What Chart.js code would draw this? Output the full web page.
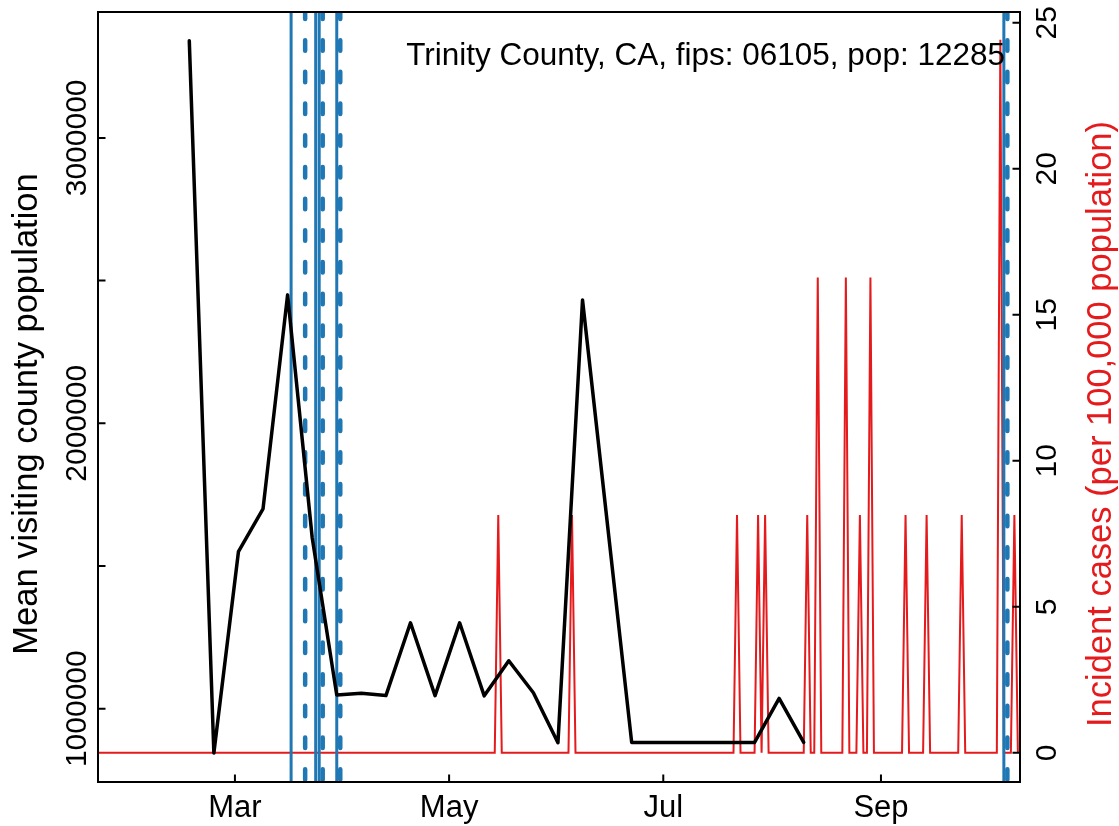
<!DOCTYPE html>
<html>
<head>
<meta charset="utf-8">
<title>Trinity County, CA</title>
<script src="https://cdn.jsdelivr.net/npm/chart.js@4.4.1/dist/chart.umd.min.js"></script>
<style>
  html, body { margin: 0; padding: 0; background: #fff; }
  canvas { display: block; }
</style>
</head>
<body>
<canvas id="chart" width="1119" height="826"></canvas>
<script>
// weekly mean visiting population (week starting Monday)
const visitWeeks = [
  '2020-02-17', '2020-02-24', '2020-03-02', '2020-03-09', '2020-03-16', '2020-03-23',
  '2020-03-30', '2020-04-06', '2020-04-13', '2020-04-20', '2020-04-27', '2020-05-04',
  '2020-05-11', '2020-05-18', '2020-05-25', '2020-06-01', '2020-06-08', '2020-06-15',
  '2020-06-22', '2020-06-29', '2020-07-06', '2020-07-13', '2020-07-20', '2020-07-27',
  '2020-08-03', '2020-08-10'
];
const visitMeans = [
  3340000, 845000, 1550000, 1700000, 2450000, 1600000,
  1048000, 1054000, 1046000, 1301000, 1046000, 1301000,
  1045000, 1168000, 1056000, 881000, 2432000, 1657000,
  882000, 882000, 882000, 882000, 882000, 882000,
  1036000, 882000
];

// daily incident cases per 100,000: days with a case (all other days are 0)
const caseFirstDay = '2020-01-22';
const caseLastDay = '2020-10-10';
const caseDays = [
  '2020-05-15', '2020-06-05', '2020-07-22', '2020-07-28', '2020-07-30', '2020-08-11',
  '2020-08-14', '2020-08-22', '2020-08-26', '2020-08-29', '2020-09-08', '2020-09-14',
  '2020-09-24', '2020-10-05', '2020-10-09'
];
const caseRates = [
  8.14, 8.14, 8.14, 8.14, 8.14, 8.14,
  16.28, 16.28, 8.14, 16.28, 8.14, 8.14,
  8.14, 24.42, 8.14
];

// policy dates (vertical lines)
const solidDates = ['2020-03-17', '2020-03-24', '2020-03-25', '2020-03-30', '2020-10-06'];
const dashedDates = ['2020-03-21', '2020-03-26', '2020-03-31', '2020-10-07'];

// axes
const monthTicks = ['2020-03-01', '2020-05-01', '2020-07-01', '2020-09-01'];
const monthLabels = ['Mar', 'May', 'Jul', 'Sep'];
const visitTicks = [1000000, 1500000, 2000000, 2500000, 3000000];
const visitTickLabels = ['1000000', '', '2000000', '', '3000000'];
const caseTicks = [0, 5, 10, 15, 20, 25];
const caseTickLabels = ['0', '5', '10', '15', '20', '25'];

const countyNote = 'Trinity County, CA, fips: 06105, pop: 12285';
const leftTitle = 'Mean visiting county population';
const rightTitle = 'Incident cases (per 100,000 population)';

const BLUE = '#1f77b4';
const RED = '#e41a1c';
const FONT = '"Liberation Sans", Arial, sans-serif';

// dates -> days since 1 March 2020
const origin = Date.parse('2020-03-01T00:00:00Z');
const day = s => (Date.parse(s + 'T00:00:00Z') - origin) / 86400000;

const visitPoints = visitWeeks.map((w, i) => ({ x: day(w), y: visitMeans[i] }));

const casePoints = [];
for (let d = day(caseFirstDay); d <= day(caseLastDay); d++) {
  const k = caseDays.findIndex(s => day(s) === d);
  casePoints.push({ x: d, y: k >= 0 ? caseRates[k] : 0 });
}

function rotText(ctx, text, x, y) {
  ctx.save();
  ctx.translate(x, y);
  ctx.rotate(-Math.PI / 2);
  ctx.fillText(text, 0, 0);
  ctx.restore();
}

const policyLines = {
  id: 'policyLines',
  beforeDatasetDraw(chart, args) {
    if (args.index !== 0) return; // draw between the red and black series
    const { ctx, chartArea: a, scales: { x } } = chart;
    ctx.save();
    ctx.beginPath();
    ctx.rect(a.left, a.top, a.right - a.left, a.bottom - a.top);
    ctx.clip();
    ctx.strokeStyle = BLUE;
    ctx.lineCap = 'butt';
    ctx.lineWidth = 3;
    solidDates.forEach(s => {
      const px = x.getPixelForValue(day(s));
      ctx.beginPath();
      ctx.moveTo(px, a.bottom);
      ctx.lineTo(px, a.top);
      ctx.stroke();
    });
    ctx.lineWidth = 4.5;
    ctx.lineCap = 'round';
    ctx.setLineDash([10.5, 21.2]);
    dashedDates.forEach(s => {
      const px = x.getPixelForValue(day(s));
      ctx.beginPath();
      ctx.moveTo(px, a.bottom - 2.25);
      ctx.lineTo(px, a.top);
      ctx.stroke();
    });
    ctx.restore();
  }
};

const frame = {
  id: 'frame',
  afterDraw(chart) {
    const { ctx, chartArea: a, scales: { x, y, y2 } } = chart;
    const tick = 7.5;
    ctx.save();
    ctx.strokeStyle = '#000';
    ctx.lineWidth = 2;
    ctx.strokeRect(a.left, a.top, a.right - a.left, a.bottom - a.top);

    ctx.beginPath();
    monthTicks.forEach(s => {
      const px = x.getPixelForValue(day(s));
      ctx.moveTo(px, a.bottom); ctx.lineTo(px, a.bottom - tick);
    });
    visitTicks.forEach(v => {
      const py = y.getPixelForValue(v);
      ctx.moveTo(a.left, py); ctx.lineTo(a.left + tick, py);
    });
    caseTicks.forEach(v => {
      const py = y2.getPixelForValue(v);
      ctx.moveTo(a.right, py); ctx.lineTo(a.right - tick, py);
    });
    ctx.stroke();

    ctx.fillStyle = '#000';
    ctx.textAlign = 'center';
    ctx.textBaseline = 'alphabetic';
    ctx.font = '31px ' + FONT;
    monthTicks.forEach((s, i) => {
      ctx.fillText(monthLabels[i], x.getPixelForValue(day(s)), 817);
    });
    ctx.font = '30px ' + FONT;
    visitTicks.forEach((v, i) => {
      if (visitTickLabels[i]) rotText(ctx, visitTickLabels[i], 85.5, y.getPixelForValue(v));
    });
    caseTicks.forEach((v, i) => {
      rotText(ctx, caseTickLabels[i], 1056, y2.getPixelForValue(v));
    });

    ctx.font = '34.5px ' + FONT;
    rotText(ctx, leftTitle, 36.5, 414);
    ctx.fillStyle = RED;
    rotText(ctx, rightTitle, 1111, 424);

    ctx.fillStyle = '#000';
    ctx.font = '31.5px ' + FONT;
    ctx.textAlign = 'right';
    ctx.fillText(countyNote, a.right - 15, 65);
    ctx.restore();
  }
};

new Chart(document.getElementById('chart'), {
  type: 'line',
  data: {
    datasets: [
      {
        label: 'Mean visiting county population',
        data: visitPoints,
        yAxisID: 'y',
        borderColor: '#000',
        borderWidth: 3.5,
        borderJoinStyle: 'round',
        borderCapStyle: 'round',
        pointRadius: 0,
        tension: 0,
        fill: false
      },
      {
        label: 'Incident cases',
        data: casePoints,
        yAxisID: 'y2',
        borderColor: RED,
        borderWidth: 2,
        pointRadius: 0,
        tension: 0,
        fill: false
      }
    ]
  },
  options: {
    responsive: false,
    animation: false,
    devicePixelRatio: 1,
    layout: { padding: { left: 98, right: 99, top: 12, bottom: 44 } },
    plugins: { legend: { display: false }, tooltip: { enabled: false } },
    scales: {
      x: { type: 'linear', min: -39, max: 223.6, display: false },
      y: { type: 'linear', position: 'left', min: 743200, max: 3441100, display: false },
      y2: { type: 'linear', position: 'right', min: -1.0, max: 25.37, display: false }
    }
  },
  plugins: [policyLines, frame]
});
</script>
</body>
</html>
